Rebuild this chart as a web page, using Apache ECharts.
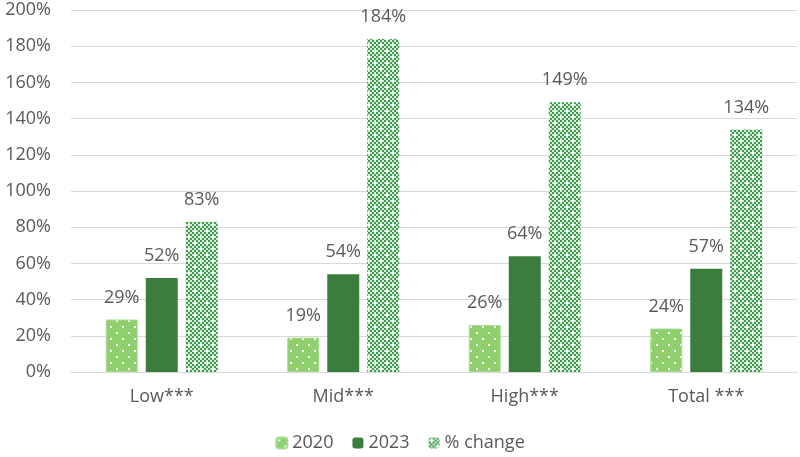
<!DOCTYPE html>
<html><head><meta charset="utf-8">
<script src="https://cdn.jsdelivr.net/npm/echarts@6/dist/echarts.min.js"></script>
<style>html,body{margin:0;padding:0;background:#fff}#c{width:800px;height:457px}</style>
</head><body><div id="c"></div>
<script>
const categories = ['Low***', 'Mid***', 'High***', 'Total ***'];
const v2020 = [29, 19, 26, 24];
const v2023 = [52, 54, 64, 57];
const vChange = [83, 184, 149, 134];
const yTicks = [0, 20, 40, 60, 80, 100, 120, 140, 160, 180, 200];

function dotPattern() {
  const c = document.createElement('canvas'); c.width = 12; c.height = 12;
  const g = c.getContext('2d');
  g.fillStyle = '#8fcf6d'; g.fillRect(0, 0, 12, 12);
  g.fillStyle = '#ffffff';
  g.fillRect(2, 2, 2, 2); g.fillRect(8, 8, 2, 2);
  return c;
}
function checkPattern() {
  const c = document.createElement('canvas'); c.width = 12; c.height = 12;
  const g = c.getContext('2d');
  g.fillStyle = '#d6ecd8'; g.fillRect(0, 0, 12, 12);
  g.fillStyle = '#3f9a50';
  for (let y = 0; y < 12; y += 2) for (let x = 0; x < 12; x += 2) {
    if (((x + y) / 2) % 2 === 0) g.fillRect(x, y, 2, 2);
  }
  g.fillStyle = '#ffffff';
  g.fillRect(2, 2, 2, 2); g.fillRect(8, 8, 2, 2);
  return c;
}
const p1 = { image: dotPattern(), repeat: 'repeat' };
const p3 = { image: checkPattern(), repeat: 'repeat' };
const txt = '#595959';
const font = '"Open Sans", Roboto, sans-serif';
const lbl = { show: true, position: 'top', distance: 13, color: txt, fontSize: 18, fontFamily: font, formatter: p => p.value + '%' };

const chart = echarts.init(document.getElementById('c'));
chart.setOption({
  animation: false,
  textStyle: { fontFamily: font },
  grid: { left: 71, right: 3, top: 10, bottom: 85 },
  legend: {
    bottom: 0, left: 'center', itemWidth: 11, itemHeight: 11, itemGap: 19,
    textStyle: { color: txt, fontSize: 18, fontFamily: font },
    data: ['2020', '2023', '% change']
  },
  xAxis: {
    type: 'category', data: categories,
    axisLine: { lineStyle: { color: '#d9d9d9', width: 1 } },
    axisTick: { show: false },
    axisLabel: { color: txt, fontSize: 18, margin: 16, fontFamily: font }
  },
  yAxis: {
    type: 'value', min: 0, max: 200, interval: 20,
    axisLine: { show: false }, axisTick: { show: false },
    splitLine: { lineStyle: { color: '#d9d9d9' } },
    axisLabel: { color: txt, fontSize: 18, margin: 20, fontFamily: font,
      formatter: v => yTicks.includes(v) ? v + '%' : '' }
  },
  series: [
    { name: '2020', type: 'bar', data: v2020, barWidth: 32, barGap: '25%',
      itemStyle: { color: p1, borderColor: '#a9dc90', borderWidth: 1 }, label: lbl },
    { name: '2023', type: 'bar', data: v2023, barWidth: 32, barGap: '25%',
      itemStyle: { color: '#3a7d3d' }, label: lbl },
    { name: '% change', type: 'bar', data: vChange, barWidth: 32, barGap: '25%',
      itemStyle: { color: p3 }, label: lbl }
  ]
});
</script></body></html>
